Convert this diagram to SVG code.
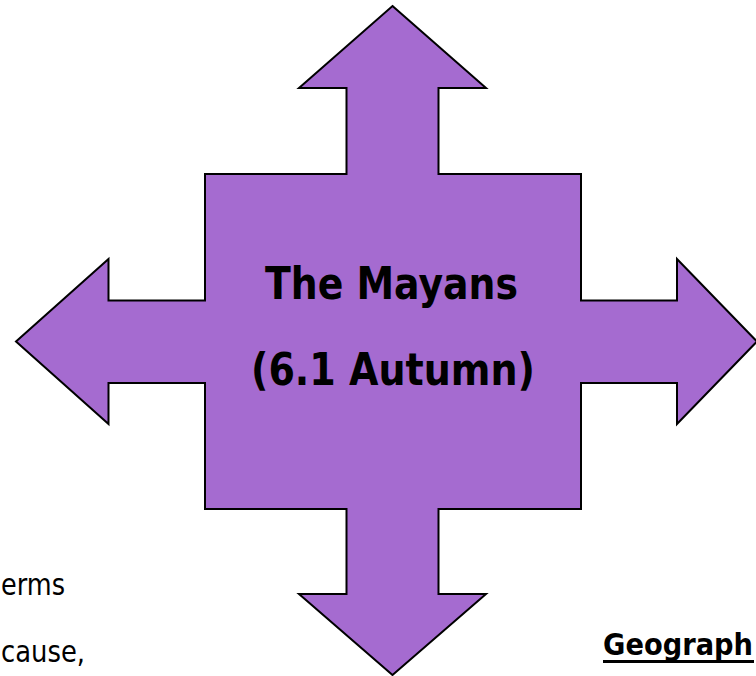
<svg xmlns="http://www.w3.org/2000/svg" width="756" height="676" viewBox="0 0 756 676">
  <style>
    .shape { fill: #A56BD0; stroke: #000000; stroke-width: 2; stroke-linejoin: miter; }
    .title { font-family: "DejaVu Sans", Verdana, sans-serif; font-weight: bold; font-size: 44px; fill: #000000; }
    .body { font-family: "DejaVu Sans", Verdana, sans-serif; font-size: 30px; fill: #000000; }
    .head { font-family: "DejaVu Sans", Verdana, sans-serif; font-weight: bold; font-size: 30px; fill: #000000; }
  </style>
  <rect width="756" height="676" fill="#ffffff"/>
  <g id="connectors"></g>
  <g id="mayans">
    <polygon class="shape" points="392.5,6 486,88 438.5,88 438.5,174 581,174 581,300.5 677,300.5 677,259 757,341.5 677,424 677,383 581,383 581,509 438.5,509 438.5,594 486,594 392.5,675 299,594 346.5,594 346.5,509 205,509 205,383 108.5,383 108.5,424 16,341.5 108.5,259 108.5,300.5 205,300.5 205,174 346.5,174 346.5,88 299,88"/>
    <text class="title" x="391.5" y="299" text-anchor="middle" textLength="253" lengthAdjust="spacingAndGlyphs">The Mayans</text>
    <text class="title" x="393" y="385" text-anchor="middle" textLength="284" lengthAdjust="spacingAndGlyphs">(6.1 Autumn)</text>
  </g>
  <g id="text-terms">
    <text class="body" x="1" y="595" textLength="64" lengthAdjust="spacingAndGlyphs">erms</text>
  </g>
  <g id="text-cause">
    <text class="body" x="1" y="662" textLength="84" lengthAdjust="spacingAndGlyphs">cause,</text>
  </g>
  <g id="text-geography">
    <text class="head" x="603" y="655" textLength="150" lengthAdjust="spacingAndGlyphs">Geograph</text>
    <rect x="603" y="660" width="151" height="3" fill="#000000"/>
  </g>
</svg>
